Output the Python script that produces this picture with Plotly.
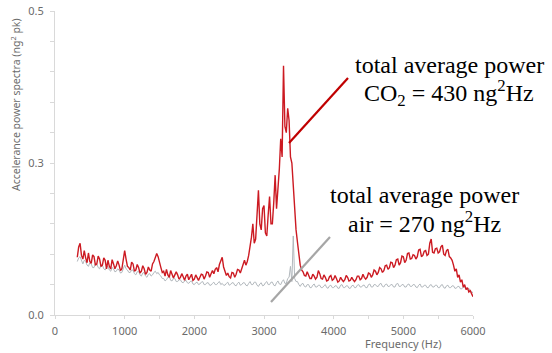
import plotly.graph_objects as go

# frequency grid (Hz), 20 Hz resolution
freq = list(range(320, 6001, 20))

# CO2 spectrum (ng^2 pk)
co2 = [
    # 320-700
    0.095,0.112,0.118,0.098,0.092,0.106,0.094,0.086,0.102,0.088,0.085,0.099,0.096,0.082,0.084,0.097,0.092,0.080,0.082,0.094,
    # 720-1100
    0.090,0.076,0.090,0.080,0.076,0.091,0.084,0.076,0.081,0.089,0.082,0.073,0.076,0.094,0.106,0.092,0.080,0.078,0.074,0.087,
    # 1120-1500
    0.084,0.072,0.074,0.083,0.078,0.069,0.072,0.081,0.076,0.067,0.070,0.079,0.074,0.072,0.084,0.088,0.094,0.101,0.096,0.084,
    # 1520-1900
    0.078,0.070,0.072,0.064,0.075,0.066,0.062,0.073,0.068,0.061,0.066,0.071,0.066,0.059,0.062,0.068,0.063,0.057,0.064,0.067,
    # 1920-2300
    0.058,0.063,0.067,0.057,0.059,0.066,0.062,0.057,0.062,0.067,0.066,0.059,0.064,0.071,0.070,0.062,0.068,0.073,0.068,0.075,
    # 2320-2700
    0.078,0.071,0.083,0.088,0.095,0.079,0.071,0.065,0.069,0.063,0.061,0.070,0.069,0.062,0.067,0.075,0.074,0.069,0.076,0.082,
    # 2720-3100
    0.090,0.082,0.088,0.098,0.110,0.128,0.150,0.118,0.125,0.160,0.205,0.150,0.140,0.175,0.180,0.135,0.130,0.165,0.195,0.150,
    # 3120-3500
    0.150,0.185,0.230,0.175,0.205,0.240,0.290,0.260,0.410,0.310,0.300,0.340,0.320,0.260,0.250,0.210,0.180,0.140,0.120,0.095,
    # 3520-3900
    0.082,0.074,0.071,0.065,0.064,0.071,0.066,0.060,0.060,0.067,0.064,0.059,0.062,0.073,0.068,0.060,0.059,0.066,0.062,0.056,
    # 3920-4300
    0.057,0.063,0.065,0.057,0.059,0.065,0.060,0.054,0.056,0.062,0.058,0.055,0.058,0.065,0.062,0.056,0.057,0.062,0.058,0.055,
    # 4320-4700
    0.058,0.064,0.064,0.058,0.060,0.067,0.062,0.059,0.062,0.069,0.068,0.062,0.066,0.074,0.072,0.066,0.070,0.078,0.076,0.070,
    # 4720-5100
    0.073,0.081,0.082,0.075,0.078,0.087,0.086,0.078,0.082,0.091,0.092,0.082,0.086,0.097,0.096,0.086,0.090,0.101,0.102,0.092,
    # 5120-5500
    0.093,0.099,0.098,0.092,0.096,0.107,0.108,0.096,0.098,0.105,0.106,0.098,0.100,0.118,0.125,0.103,0.102,0.109,0.110,0.102,
    # 5520-5900
    0.104,0.112,0.115,0.100,0.098,0.106,0.108,0.096,0.094,0.090,0.082,0.072,0.076,0.062,0.066,0.054,0.058,0.046,0.050,0.042,
    # 5920-6000
    0.045,0.038,0.040,0.034,0.030,
]

# air spectrum (ng^2 pk)
air = [
    # 320-700
    0.088,0.094,0.096,0.088,0.084,0.090,0.088,0.082,0.080,0.086,0.084,0.078,0.078,0.085,0.084,0.078,0.076,0.082,0.082,0.076,
    # 720-1100
    0.074,0.079,0.080,0.074,0.072,0.078,0.076,0.071,0.072,0.076,0.074,0.069,0.070,0.076,0.082,0.076,0.074,0.070,0.070,0.074,
    # 1120-1500
    0.074,0.068,0.066,0.071,0.072,0.066,0.064,0.069,0.070,0.064,0.062,0.067,0.068,0.064,0.066,0.070,0.072,0.068,0.070,0.066,
    # 1520-1900
    0.064,0.060,0.060,0.056,0.058,0.062,0.064,0.057,0.056,0.060,0.060,0.055,0.055,0.058,0.058,0.054,0.053,0.056,0.057,0.053,
    # 1920-2300
    0.052,0.055,0.056,0.051,0.050,0.053,0.054,0.050,0.051,0.054,0.055,0.050,0.050,0.053,0.053,0.049,0.049,0.052,0.054,0.050,
    # 2320-2700
    0.050,0.053,0.055,0.050,0.052,0.049,0.049,0.052,0.054,0.049,0.050,0.053,0.053,0.049,0.048,0.052,0.054,0.049,0.050,0.053,
    # 2720-3100
    0.053,0.049,0.048,0.052,0.055,0.050,0.050,0.054,0.054,0.049,0.047,0.051,0.053,0.048,0.049,0.053,0.055,0.050,0.050,0.054,
    # 3120-3500
    0.054,0.049,0.048,0.053,0.056,0.051,0.050,0.055,0.058,0.052,0.052,0.060,0.062,0.080,0.055,0.130,0.060,0.055,0.055,0.050,
    # 3520-3900
    0.047,0.051,0.052,0.047,0.046,0.050,0.050,0.045,0.045,0.049,0.051,0.046,0.046,0.049,0.049,0.045,0.045,0.048,0.050,0.045,
    # 3920-4300
    0.044,0.048,0.049,0.045,0.045,0.048,0.048,0.044,0.044,0.049,0.050,0.045,0.045,0.048,0.048,0.044,0.044,0.048,0.049,0.045,
    # 4320-4700
    0.045,0.049,0.050,0.046,0.046,0.049,0.049,0.045,0.045,0.050,0.051,0.046,0.046,0.050,0.050,0.047,0.047,0.051,0.052,0.047,
    # 4720-5100
    0.046,0.050,0.051,0.047,0.047,0.050,0.050,0.046,0.046,0.051,0.052,0.047,0.047,0.050,0.050,0.046,0.046,0.050,0.051,0.047,
    # 5120-5500
    0.047,0.050,0.050,0.046,0.045,0.049,0.051,0.046,0.046,0.049,0.049,0.045,0.045,0.049,0.050,0.046,0.046,0.049,0.049,0.045,
    # 5520-5900
    0.045,0.049,0.050,0.045,0.044,0.048,0.049,0.045,0.045,0.048,0.048,0.044,0.044,0.047,0.047,0.043,0.043,0.046,0.046,0.042,
    # 5920-6000
    0.042,0.044,0.040,0.039,0.036,
]

y_tickvals = [0, 0.05, 0.1, 0.15, 0.2, 0.25, 0.3, 0.35, 0.4, 0.45, 0.5]
y_ticktext = ["0.0", "", "", "", "", "0.3", "", "", "", "", "0.5"]
x_tickvals = [0, 500, 1000, 1500, 2000, 2500, 3000, 3500, 4000, 4500, 5000, 5500, 6000]
x_ticktext = ["0", "", "1000", "", "2000", "", "3000", "", "4000", "", "5000", "", "6000"]

W, H = 552, 353
L, R, T, B = 55, 79, 11, 38
pw, ph = W - L - R, H - T - B

def px(x):
    return (x - L) / pw

def py(y):
    return (H - B - y) / ph

fig = go.Figure()
fig.add_trace(go.Scatter(x=freq, y=air, mode="lines",
                         line=dict(color="#b2b8bd", width=1), showlegend=False))
fig.add_trace(go.Scatter(x=freq, y=co2, mode="lines",
                         line=dict(color="#cc1a22", width=1.4), showlegend=False))

gray = "#6b6b6b"
tickfont = dict(family="Noto Sans, sans-serif", size=11, color=gray)
axcol = "#d9d9d9"
fig.update_layout(
    width=W, height=H,
    margin=dict(l=L, r=R, t=T, b=B, pad=0, autoexpand=False),
    paper_bgcolor="white", plot_bgcolor="white",
    xaxis=dict(range=[0, 6000], tickmode="array", tickvals=x_tickvals, ticktext=x_ticktext,
               showgrid=False, zeroline=False, showline=True, linecolor=axcol, automargin=False,
               ticks="outside", ticklen=3, tickcolor=axcol, tickfont=tickfont,
               ticklabelstandoff=3),
    yaxis=dict(range=[0, 0.5], tickmode="array", tickvals=y_tickvals, ticktext=y_ticktext,
               showgrid=False, zeroline=False, showline=True, linecolor=axcol, automargin=False,
               ticks="outside", ticklen=4, tickcolor=axcol, tickfont=tickfont,
               ticklabelstandoff=4),
)

serif = dict(family="Liberation Serif, Times New Roman, serif", size=24, color="black")
lines = [
    (449, 65, "total average power"),
    (449, 93, "CO<sub>2</sub> = 430 ng<sup>2</sup>Hz"),
    (424, 195, "total average power"),
    (424, 222, "air = 270 ng<sup>2</sup>Hz"),
]
for cx, cy, txt in lines:
    fig.add_annotation(xref="paper", yref="paper", x=px(cx), y=py(cy), text=txt,
                       showarrow=False, font=serif, xanchor="center", yanchor="middle")

fig.add_annotation(xref="paper", yref="paper", x=px(15), y=py(105),
                   text="Accelerance power spectra (ng<sup>2</sup> pk)", textangle=-90,
                   showarrow=False, font=dict(family="Noto Sans, sans-serif", size=10.5, color=gray),
                   xanchor="center", yanchor="middle")
fig.add_annotation(xref="paper", yref="paper", x=px(403), y=py(343),
                   text="Frequency (Hz)",
                   showarrow=False, font=dict(family="Noto Sans, sans-serif", size=11, color=gray),
                   xanchor="center", yanchor="middle")

fig.add_shape(type="line", xref="paper", yref="paper",
              x0=px(348), y0=py(78), x1=px(289), y1=py(143),
              line=dict(color="#c00000", width=2.2))
fig.add_shape(type="line", xref="paper", yref="paper",
              x0=px(330), y0=py(237), x1=px(271), y1=py(302),
              line=dict(color="#a6a6a6", width=2.2))

fig.write_html("out.html", config={"displayModeBar": False},
               post_script="document.body.style.margin='0';document.body.style.overflow='hidden';")
